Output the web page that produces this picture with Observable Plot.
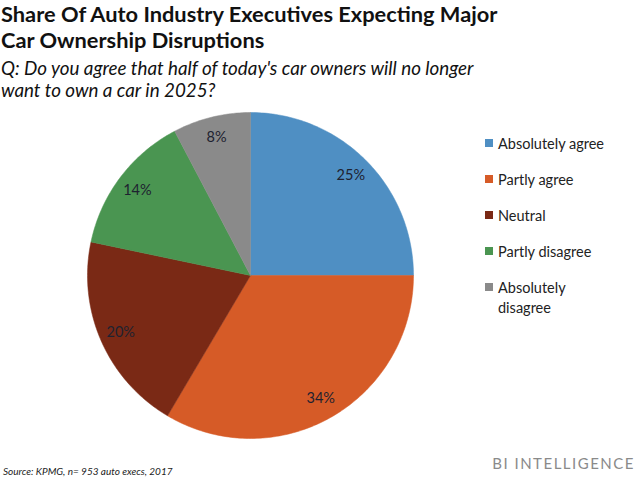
<!DOCTYPE html>
<html>
<head>
<meta charset="utf-8">
<script src="https://cdn.jsdelivr.net/npm/d3@7"></script>
<script src="https://cdn.jsdelivr.net/npm/@observablehq/plot@0.6"></script>
<style>
  html, body { margin: 0; padding: 0; background: #fff; }
  body { width: 640px; height: 480px; position: relative; overflow: hidden; font-family: Lato, "Open Sans", sans-serif; color: #111; }
  #title { position: absolute; left: 1px; top: 1px; font-weight: bold; font-size: 21.8px; line-height: 26px; color: #111; }
  #subtitle { position: absolute; left: 1px; top: 57px; font-style: italic; font-size: 18.8px; line-height: 22px; color: #111; }
  #chart { position: absolute; left: 0; top: 100px; }
  #legend { position: absolute; left: 485px; top: 134px; font-size: 14.5px; color: #222; }
  .item { position: relative; padding-left: 13px; height: 36px; line-height: 20px; }
  .sw { position: absolute; left: 0; top: 5px; width: 8px; height: 8px; }
  #source { position: absolute; left: 3px; top: 465px; font-style: italic; font-size: 10px; color: #222; }
  #brand { position: absolute; right: 5px; top: 454px; font-size: 15px; letter-spacing: 1.5px; color: #8a8a8a; }
</style>
</head>
<body>
<div id="title">Share Of Auto Industry Executives Expecting Major<br>Car Ownership Disruptions</div>
<div id="subtitle">Q: Do you agree that half of today's car owners will no longer<br>want to own a car in 2025?</div>
<div id="chart"></div>
<div id="legend"></div>
<div id="source">Source: KPMG, n= 953 auto execs, 2017</div>
<div id="brand">BI INTELLIGENCE</div>
<script>
const categories = ["Absolutely agree", "Partly agree", "Neutral", "Partly disagree", "Absolutely disagree"];
const values = [25, 33.5, 19.8, 14.0, 7.7];
const labels = ["25%", "34%", "20%", "14%", "8%"];
const colors = ["#4f8fc3", "#d65b27", "#7a2915", "#4a9551", "#8a8a8a"];

// pie geometry (unit circle), angles clockwise from 12 o'clock
const pie = d3.pie().sort(null).value(d => d.value)(
  categories.map((c, i) => ({cat: c, value: values[i], label: labels[i]}))
);
const polys = [];
const labelPts = [];
for (const s of pie) {
  const a0 = s.startAngle, a1 = s.endAngle;
  const n = Math.max(2, Math.ceil((a1 - a0) / (Math.PI / 180)));
  polys.push({cat: s.data.cat, x: 0, y: 0});
  for (let k = 0; k <= n; k++) {
    const a = a0 + (a1 - a0) * k / n;
    polys.push({cat: s.data.cat, x: Math.sin(a), y: Math.cos(a)});
  }
  polys.push({cat: s.data.cat, x: 0, y: 0});
  const am = (a0 + a1) / 2;
  labelPts.push({label: s.data.label, x: 0.87 * Math.sin(am), y: 0.87 * Math.cos(am)});
}

const R = 163, cx = 250, cy = 175, W = 640, H = 380;
const chart = Plot.plot({
  width: W, height: H,
  margin: 0,
  x: {domain: [-cx / R, (W - cx) / R], axis: null},
  y: {domain: [-(H - cy) / R, cy / R], axis: null},
  color: {domain: categories, range: colors},
  style: {background: "transparent"},
  marks: [
    Plot.line(polys, {x: "x", y: "y", z: "cat", fill: "cat", stroke: "cat", strokeWidth: 0.5, curve: "linear-closed"}),
    Plot.text(labelPts, {x: "x", y: "y", text: "label", fontSize: 14.5, fill: "#1e2230", fontFamily: "Lato, 'Open Sans', sans-serif"})
  ]
});
document.getElementById("chart").appendChild(chart);

const legend = d3.select("#legend");
categories.forEach((c, i) => {
  const it = legend.append("div").attr("class", "item");
  it.append("div").attr("class", "sw").style("background", colors[i]);
  it.append("div").html(c === "Absolutely disagree" ? "Absolutely<br>disagree" : c);
});
</script>
</body>
</html>
